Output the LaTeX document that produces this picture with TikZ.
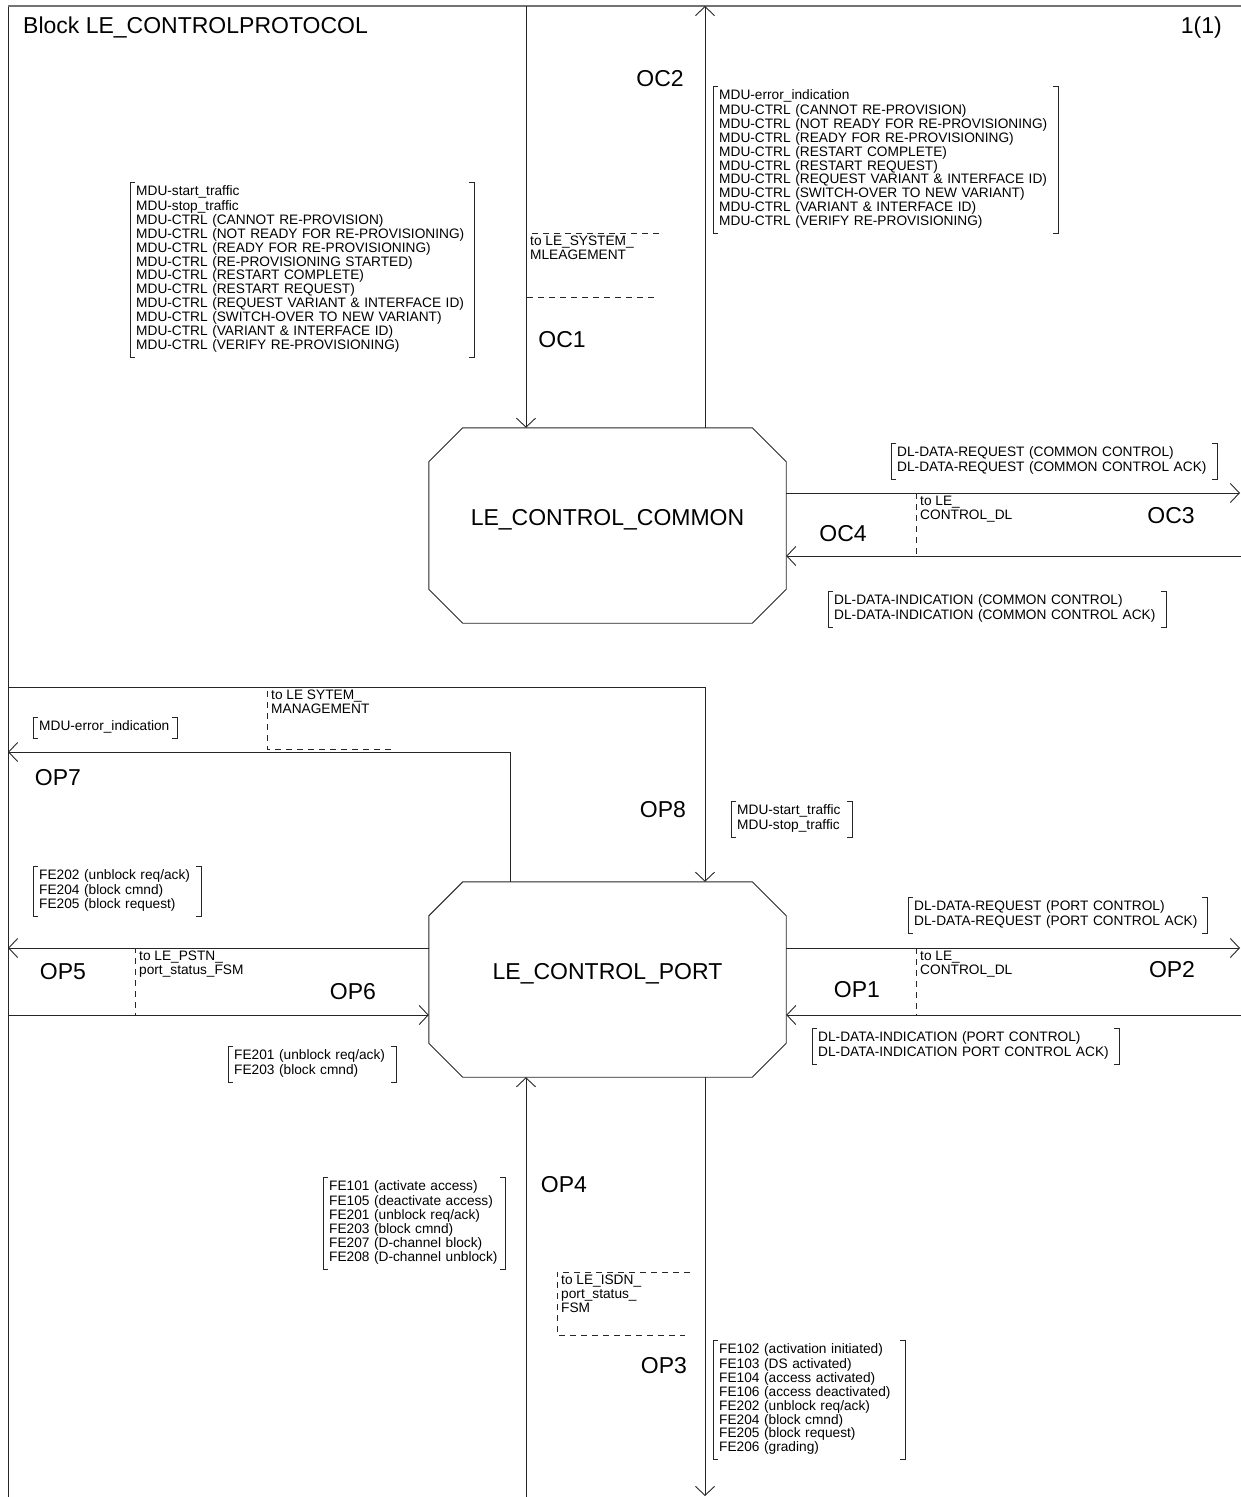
\documentclass[tikz,border=0pt]{standalone}
\usepackage{fontspec}
\setmainfont{Liberation Sans}
\usetikzlibrary{arrows.meta}
\newcommand{\msgfont}{\fontsize{13.7}{13.85}\selectfont}
\newcommand{\bigfont}{\fontsize{23}{27}\selectfont}
\begin{document}
\begin{tikzpicture}[x=1pt,y=-1pt,
  ln/.style={draw=black!85, line width=0.9pt},
  flow/.style={ln, -{Straight Barb[length=9pt,width=19pt,line width=0.9pt]}},
  dashbox/.style={draw=black!85, line width=0.8pt, dash pattern=on 6pt off 5pt},
  lbrack/.style={draw=black!85, line width=0.8pt, to path={([xshift=5pt]\tikztostart) -- (\tikztostart) -- (\tikztotarget) -- ([xshift=5pt]\tikztotarget)}},
  rbrack/.style={draw=black!85, line width=0.8pt, to path={([xshift=-5pt]\tikztostart) -- (\tikztostart) -- (\tikztotarget) -- ([xshift=-5pt]\tikztotarget)}},
  msg/.style={anchor=north west, align=left, font=\msgfont, inner xsep=6pt, inner ysep=3.5pt,
    execute at begin node=\strut, execute at end node=\strut,
    append after command={(\tikzlastnode.north west) edge[lbrack] (\tikzlastnode.south west)
                          (\tikzlastnode.north east) edge[rbrack] (\tikzlastnode.south east)}},
  note/.style={anchor=north west, align=left, font=\msgfont, inner xsep=4pt, inner ysep=3pt,
    execute at begin node=\strut},
  chan/.style={font=\bigfont, inner sep=0pt},
  block/.style={minimum width=357pt, minimum height=195pt, inner sep=0pt, font=\bigfont,
    text height=17pt, text depth=17pt}
]
\useasboundingbox (0,0) rectangle (1241,1497);

% frame
\draw[ln] (8,1497) -- (8,6);
\draw[draw=black!55, line width=1.6pt] (8,6) -- (1241,6);
\node[font=\bigfont, anchor=base west, inner sep=0pt] (title) at (23,33) {Block LE\_CONTROLPROTOCOL};
\node[font=\bigfont, anchor=base east, inner sep=0pt] (page) at (1222,33) {1(1)};

% blocks
\node[block] (com) at (607.5,525.5) {LE\_CONTROL\_COMMON};
\node[block] (port) at (607.5,979.5) {LE\_CONTROL\_PORT};
\foreach \b in {com,port}{
  \draw[ln] ([xshift=34pt]\b.north west) -- ([xshift=-34pt]\b.north east) -- ([yshift=-34pt]\b.north east)
    -- ([yshift=34pt]\b.south east) -- ([xshift=-34pt]\b.south east) -- ([xshift=34pt]\b.south west)
    -- ([yshift=34pt]\b.south west) -- ([yshift=-34pt]\b.north west) -- cycle;
}

% dashed destination markers
\draw[dashbox] (659,233) -- (526,233) -- (526,297) -- (655,297);
\draw[dashbox] (1048,493) -- (916,493) -- (916,556) -- (1045,556);
\draw[dashbox] (395,687) -- (267,687) -- (267,749) -- (392,749);
\draw[dashbox] (268,948) -- (135,948) -- (135,1015) -- (262,1015);
\draw[dashbox] (1048,948) -- (916,948) -- (916,1015) -- (1042,1015);
\draw[dashbox] (690,1272) -- (557,1272) -- (557,1335) -- (685,1335);
\node[note] (tsys) at (526,233) {to~LE\_SYSTEM\_\\MLEAGEMENT};
\node[note] (tdlc) at (916,493) {to~LE\_\\CONTROL\_DL};
\node[note] (tmgt) at (267,687) {to~LE~SYTEM\_\\MANAGEMENT};
\node[note] (tpstn) at (135,948) {to~LE\_PSTN\_\\port\_status\_FSM};
\node[note] (tdlp) at (916,948) {to~LE\_\\CONTROL\_DL};
\node[note] (tisdn) at (557,1272) {to~LE\_ISDN\_\\port\_status\_\\FSM};

% coordinates of free ends
\coordinate (oc1top) at (526,6);
\coordinate (oc2top) at (705,6);
\coordinate (oc3end) at (1240,493);
\coordinate (oc4start) at (1241,556);
\coordinate (op8start) at (8,687);
\coordinate (op8bend) at (705,687);
\coordinate (op7bend) at (510,752);
\coordinate (op7end) at (8,752);
\coordinate (op5end) at (8,948);
\coordinate (op6start) at (8,1015);
\coordinate (op2end) at (1240,948);
\coordinate (op1start) at (1241,1015);
\coordinate (op4start) at (526,1497);
\coordinate (op3end) at (705,1496);

% channels
\draw[flow] (oc1top) -- (com.north -| oc1top);
\draw[flow] (com.north -| oc2top) -- (oc2top);
\draw[flow] (com.east |- oc3end) -- (oc3end);
\draw[flow] (oc4start) -- (com.east |- oc4start);
\draw[flow] (op8start) -- (op8bend) -- (port.north -| op8bend);
\draw[flow] (port.north -| op7bend) -- (op7bend) -- (op7end);
\draw[flow] (port.west |- op5end) -- (op5end);
\draw[flow] (op6start) -- (port.west |- op6start);
\draw[flow] (port.east |- op2end) -- (op2end);
\draw[flow] (op1start) -- (port.east |- op1start);
\draw[flow] (op4start) -- (port.south -| op4start);
\draw[flow] (port.south -| op3end) -- (op3end);

% channel names
\node[chan] (nOC2) at (660,79) {OC2};
\node[chan] (nOC1) at (562,340) {OC1};
\node[chan] (nOC4) at (843,534) {OC4};
\node[chan] (nOC3) at (1171,516) {OC3};
\node[chan] (nOP7) at (58,778) {OP7};
\node[chan] (nOP8) at (663,810) {OP8};
\node[chan] (nOP5) at (63,972) {OP5};
\node[chan] (nOP6) at (353,992) {OP6};
\node[chan] (nOP1) at (857,990) {OP1};
\node[chan] (nOP2) at (1172,970) {OP2};
\node[chan] (nOP4) at (564,1185) {OP4};
\node[chan] (nOP3) at (664,1366) {OP3};

% signal lists
\node[msg, text width=332pt] (m1) at (130,182) {MDU-start\_traffic\\MDU-stop\_traffic\\MDU-CTRL~(CANNOT~RE-PROVISION)\\MDU-CTRL~(NOT~READY~FOR~RE-PROVISIONING)\\MDU-CTRL~(READY~FOR~RE-PROVISIONING)\\MDU-CTRL~(RE-PROVISIONING~STARTED)\\MDU-CTRL~(RESTART~COMPLETE)\\MDU-CTRL~(RESTART~REQUEST)\\MDU-CTRL~(REQUEST~VARIANT~\&~INTERFACE~ID)\\MDU-CTRL~(SWITCH-OVER~TO~NEW~VARIANT)\\MDU-CTRL~(VARIANT~\&~INTERFACE~ID)\\MDU-CTRL~(VERIFY~RE-PROVISIONING)};
\node[msg, text width=333pt] (m2) at (713,86) {MDU-error\_indication\\MDU-CTRL~(CANNOT~RE-PROVISION)\\MDU-CTRL~(NOT~READY~FOR~RE-PROVISIONING)\\MDU-CTRL~(READY~FOR~RE-PROVISIONING)\\MDU-CTRL~(RESTART~COMPLETE)\\MDU-CTRL~(RESTART~REQUEST)\\MDU-CTRL~(REQUEST~VARIANT~\&~INTERFACE~ID)\\MDU-CTRL~(SWITCH-OVER~TO~NEW~VARIANT)\\MDU-CTRL~(VARIANT~\&~INTERFACE~ID)\\MDU-CTRL~(VERIFY~RE-PROVISIONING)};
\node[msg, text width=314pt] (m3) at (891,443) {DL-DATA-REQUEST~(COMMON~CONTROL)\\DL-DATA-REQUEST~(COMMON~CONTROL~ACK)};
\node[msg, text width=326pt] (m4) at (828,591) {DL-DATA-INDICATION~(COMMON~CONTROL)\\DL-DATA-INDICATION~(COMMON~CONTROL~ACK)};
\node[msg, text width=132pt] (m5) at (33,717) {MDU-error\_indication};
\node[msg, text width=109pt] (m6) at (731,801) {MDU-start\_traffic\\MDU-stop\_traffic};
\node[msg, text width=156pt] (m7) at (33,866) {FE202~(unblock~req/ack)\\FE204~(block~cmnd)\\FE205~(block~request)};
\node[msg, text width=287pt] (m8) at (908,897) {DL-DATA-REQUEST~(PORT~CONTROL)\\DL-DATA-REQUEST~(PORT~CONTROL~ACK)};
\node[msg, text width=156pt] (m9) at (228,1046) {FE201~(unblock~req/ack)\\FE203~(block~cmnd)};
\node[msg, text width=295pt] (m10) at (812,1028) {DL-DATA-INDICATION~(PORT~CONTROL)\\DL-DATA-INDICATION~PORT~CONTROL~ACK)};
\node[msg, text width=170pt] (m11) at (323,1177) {FE101~(activate~access)\\FE105~(deactivate~access)\\FE201~(unblock~req/ack)\\FE203~(block~cmnd)\\FE207~(D-channel~block)\\FE208~(D-channel~unblock)};
\node[msg, text width=180pt] (m12) at (713,1340) {FE102~(activation~initiated)\\FE103~(DS~activated)\\FE104~(access~activated)\\FE106~(access~deactivated)\\FE202~(unblock~req/ack)\\FE204~(block~cmnd)\\FE205~(block~request)\\FE206~(grading)};
\end{tikzpicture}
\end{document}
